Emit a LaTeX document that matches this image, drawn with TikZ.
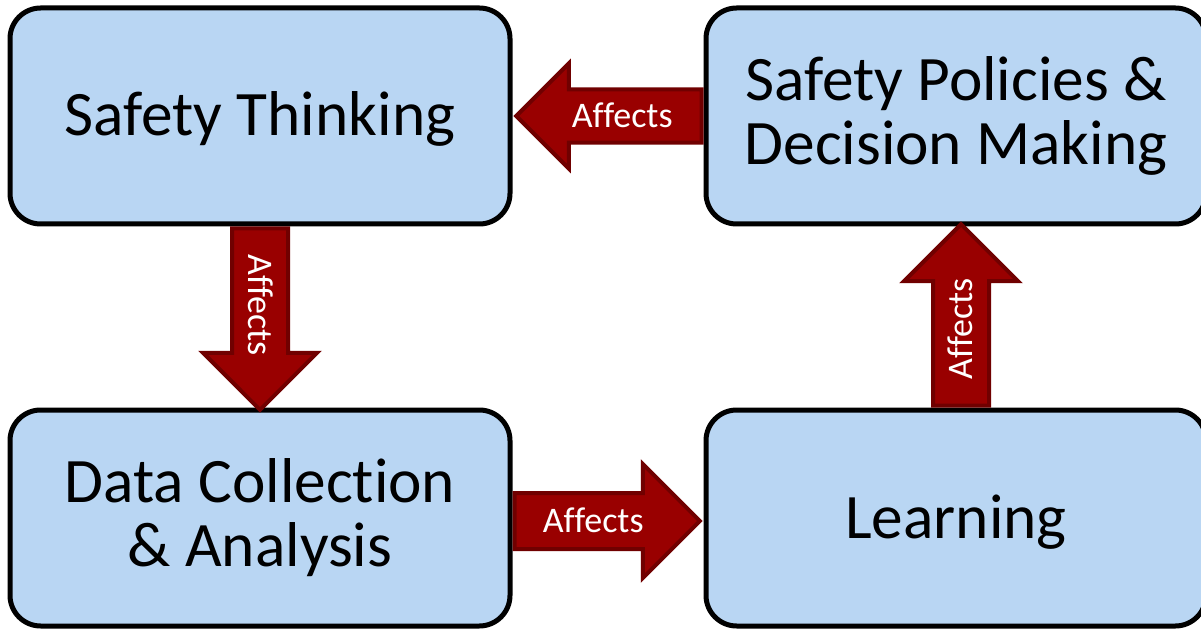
\documentclass[tikz,border=0pt]{standalone}
\usepackage{fontspec}
\setmainfont{Carlito}[Ligatures={NoCommon,NoDiscretionary,NoContextual}]
\usetikzlibrary{shapes.arrows,calc}

\definecolor{boxblue}{RGB}{185,214,243}
\definecolor{arrowred}{RGB}{153,0,0}
\definecolor{arrowedge}{RGB}{112,0,0}

\tikzset{
  block/.style={draw=black, line width=3.75pt, fill=boxblue, rounded corners=23pt,
    minimum width=375pt, minimum height=162pt, inner sep=0pt, align=center,
    font=\fontsize{47.5}{48}\selectfont},
  oneline/.style={text height=30pt, text depth=0pt},
  affects/.style={single arrow, draw=arrowedge, fill=arrowred, line width=3pt,
    text=white, font=\fontsize{27}{30}\selectfont, inner xsep=0pt, inner ysep=0pt,
    text height=28pt, text depth=11pt, minimum height=139pt, anchor=tail,
    single arrow head extend=21.75pt, single arrow tip angle=90}
}

\begin{document}
\begin{tikzpicture}[x=0.75pt,y=0.75pt,yscale=-1,xscale=1]
        \useasboundingbox (0,0) rectangle (1201,630);
        
        %Shape: Rounded Rect [boxes]
        \node [block,oneline] (thinking) at (260,116) {Safety Thinking};
        \node [block] (policies) at (956,116) {Safety Policies \&\\Decision Making};
        \node [block] (collect) at (260,518) {Data Collection\\\& Analysis};
        \node [block,oneline] (learning) at (956,518) {Learning};
        
        %Shape: Right Arrow [Affects]
        \node [affects,shape border rotate=180,text height=27pt,text depth=10pt,single arrow head extend=19.5pt] (affthink) at (policies.west) {Affects};
        \node [affects,rotate=-90,minimum height=136pt] (affcollect) at (thinking.south) {Affects};
        \node [affects] (afflearn) at ($(collect.east)+(0,3)$) {Affects};
        \node [affects,rotate=90,minimum height=136pt] (affpolicy) at ($(learning.north)+(5,0)$) {Affects};
        
        \end{tikzpicture}
\end{document}
